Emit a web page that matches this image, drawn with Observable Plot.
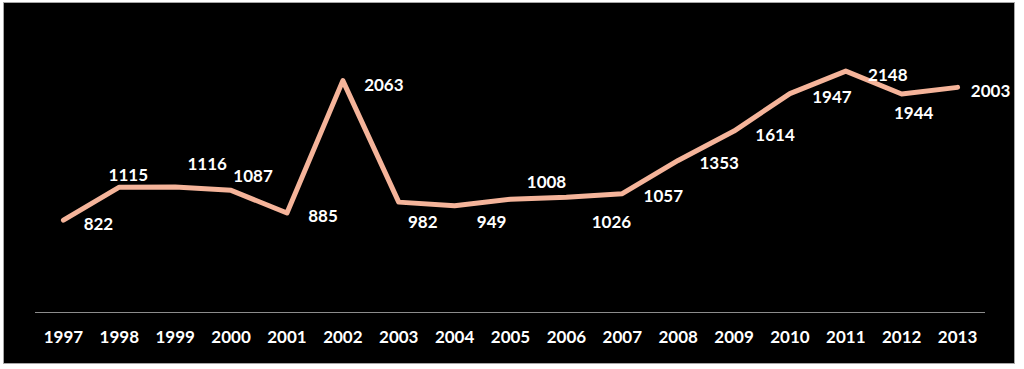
<!DOCTYPE html>
<html>
<head>
<meta charset="utf-8">
<script src="https://cdn.jsdelivr.net/npm/d3@7"></script>
<script src="https://cdn.jsdelivr.net/npm/@observablehq/plot@0.6"></script>
<style>
html, body { margin: 0; padding: 0; background: #fff; }
#chart { position: absolute; left: 3px; top: 2px; width: 1010px; height: 360px; border: 1px solid #a6a6a6; background: #000; }
#chart svg { display: block; }
</style>
</head>
<body>
<div id="chart"></div>
<script>
const years = [1997, 1998, 1999, 2000, 2001, 2002, 2003, 2004, 2005, 2006, 2007, 2008, 2009, 2010, 2011, 2012, 2013];
const values = [822, 1115, 1116, 1087, 885, 2063, 982, 949, 1008, 1026, 1057, 1353, 1614, 1947, 2148, 1944, 2003];
// label placement offsets (px) relative to each point
const labelDx = [35, 9, 32, 22, 36, 41, 24, 37, 36, 45, 41, 41, 41, 42, 42, 12, 33];
const labelDy = [4, -12, -23, -14, 4, 5, 20, 17, -17, 25, 3, 3, 4, 4, 4, 20, 4];

const data = years.map((y, i) => ({year: y, value: values[i]}));

const labelMarks = data.map((d, i) =>
  Plot.text([d], {
    x: "year", y: "value", text: d => String(d.value),
    dx: labelDx[i], dy: labelDy[i],
    fill: "white", fontSize: 17, fontWeight: "bold"
  })
);

const chart = Plot.plot({
  width: 1010,
  height: 360,
  marginLeft: 31,
  marginRight: 29,
  marginTop: 28,
  marginBottom: 51,
  style: { background: "black", color: "white", fontFamily: "Lato, 'Open Sans', sans-serif", fontSize: "17px", fontWeight: "bold" },
  x: { type: "linear", domain: [1996.5, 2013.5], label: null },
  y: { domain: [0, 2500], axis: null },
  marks: [
    Plot.ruleY([0], { stroke: "#8c8c8c", strokeWidth: 1 }),
    Plot.axisX({ ticks: years, tickFormat: d => String(d), tickSize: 0, tickPadding: 18, label: null, fill: "white", fontSize: 17, fontWeight: "bold" }),
    Plot.line(data, { x: "year", y: "value", stroke: "#F5B49A", strokeWidth: 5 }),
    ...labelMarks
  ]
});
document.getElementById("chart").appendChild(chart);
</script>
</body>
</html>
